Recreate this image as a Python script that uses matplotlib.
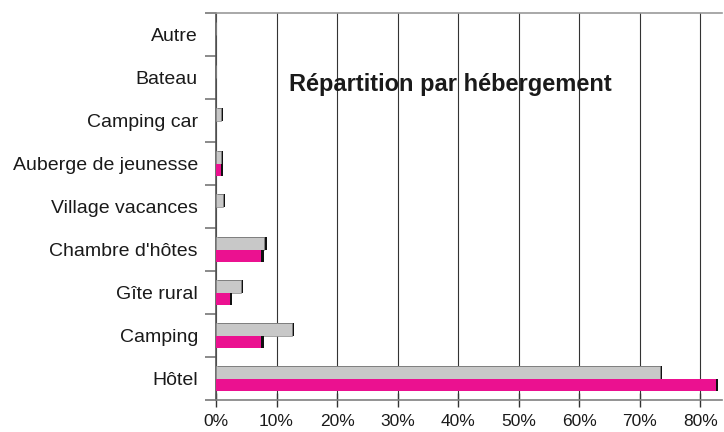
import numpy as np
import matplotlib
matplotlib.use('Agg')
import matplotlib.pyplot as plt
import matplotlib.patheffects as pe
from matplotlib.ticker import FixedLocator, FuncFormatter

plt.rcParams['font.family'] = ['Liberation Sans', 'DejaVu Sans']

categories = ['Hôtel', 'Camping', 'Gîte rural', "Chambre d'hôtes", 'Village vacances',
              'Auberge de jeunesse', 'Camping car', 'Bateau', 'Autre']
serie_grise = [73.4, 12.6, 4.1, 8.0, 1.2, 0.8, 0.8, 0.0, 0.0]
serie_rose = [82.6, 7.5, 2.3, 7.5, 0.0, 0.8, 0.0, 0.0, 0.0]
graduations = [0, 10, 20, 30, 40, 50, 60, 70, 80]

gris = '#C8C8C8'
rose = '#EB1190'

fig = plt.figure(figsize=(7.24, 4.32), dpi=100)
ax = fig.add_axes([216/724, 1-400/432, 506/724, 387/432])

y = np.arange(len(categories))
h = 0.30
ombre = [pe.SimplePatchShadow(offset=(1.6, 0), shadow_rgbFace='#111111', alpha=1), pe.Normal()]

b1 = ax.barh(y + h/2, serie_grise, height=h, color=gris, edgecolor='#8a8a8a', linewidth=0.5, zorder=3)
b2 = ax.barh(y - h/2, serie_rose, height=h, color=rose, linewidth=0, zorder=3)
for b in list(b1) + list(b2):
    if b.get_width() > 0:
        b.set_path_effects(ombre)

ax.set_xlim(0, 83.6)
ax.set_ylim(-0.5, len(categories) - 0.5)

ax.set_xticks(graduations)
ax.xaxis.set_major_formatter(FuncFormatter(lambda v, p: '%d%%' % v))
ax.tick_params(axis='x', direction='inout', length=10, width=1, color='#333333',
               labelsize=12.5, pad=5, labelcolor='#1a1a1a')

ax.set_yticks(y)
ax.set_yticklabels(categories)
ax.yaxis.set_minor_locator(FixedLocator(np.arange(-0.5, len(categories), 1.0)))
ax.tick_params(axis='y', which='major', length=0, labelsize=14, pad=13, labelcolor='#1a1a1a')
ax.tick_params(axis='y', which='minor', length=8, width=1.2, color='#777777', direction='out')

ax.grid(axis='x', color='#333333', linewidth=0.8, zorder=0)
ax.set_axisbelow(True)

ax.spines['right'].set_visible(False)
ax.spines['top'].set_color('#9a9a9a')
ax.spines['top'].set_linewidth(1.2)
ax.spines['bottom'].set_color('#808080')
ax.spines['bottom'].set_linewidth(1.2)
ax.spines['left'].set_color('#555555')
ax.spines['left'].set_linewidth(1.2)

ax.text(0.464, 0.798, 'Répartition par hébergement', transform=ax.transAxes,
        ha='center', va='baseline', fontsize=17, fontweight='bold', color='#1a1a1a', zorder=5)

fig.savefig('out.png', dpi=100)
